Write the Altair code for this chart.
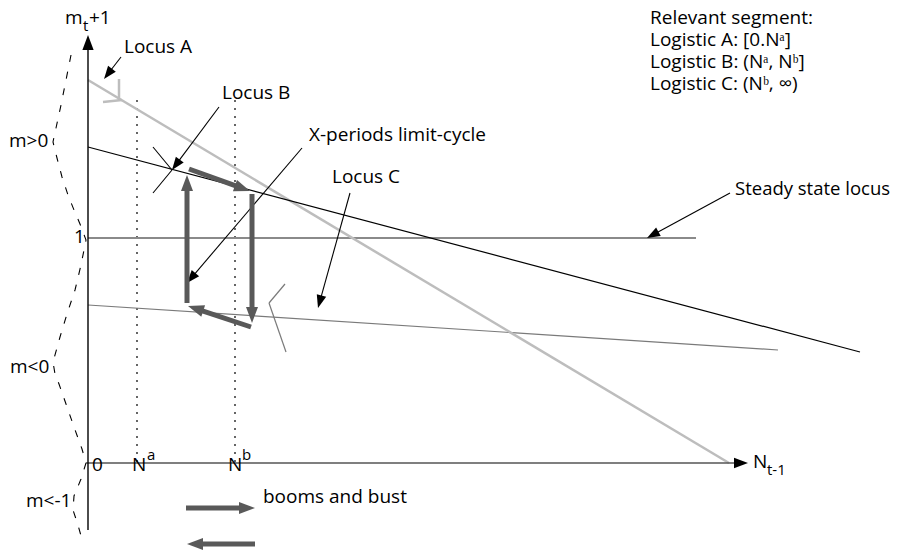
import math
import altair as alt
import pandas as pd

# ---- diagram geometry (page-unit coordinates: x = N axis, y = m axis, downward) ----
# straight loci / guides: (x1, y1, x2, y2)
locus_a = [(88, 80, 729, 463)]
locus_a_mark = [(119, 79, 119, 100), (103, 102, 122, 100)]
locus_b_line = [(88, 147, 860, 352)]
steady_line = [(88, 238, 696, 238)]
locus_c_line = [(88, 305, 778, 350)]
locus_c_mark = [(285, 284, 269, 303), (269, 303, 286, 352)]
dotted_lines = [(137, 100, 137, 463), (235, 100, 235, 463)]
thin_plain = [(172, 170, 153, 193), (153, 147, 172, 170)]

# arrows: (x_start, y_start, x_tip, y_tip)
y_axis = [(88, 530, 88, 35)]
x_axis = [(86, 463, 748, 463)]
thick_arrows = [
    (187, 303, 187, 175),
    (189, 169, 250, 191),
    (252, 194, 252, 323),
    (251, 327, 188, 306),
    (186, 508, 255, 508),
    (255, 544, 187, 544),
]
thin_arrows = [
    (121, 57, 104, 79),
    (219, 107, 172, 170),
    (302, 148, 187, 283),
    (350, 193, 318, 308),
    (730, 193, 647, 238),
]

# dashed stability bracket on the left
curve_x = [71, 66, 61, 56, 53, 57, 62, 68, 74, 80, 86, 81, 75, 67, 60, 53, 55, 59, 66, 74, 82, 86, 81, 74, 73, 78, 83]
curve_y = [55, 80, 105, 128, 142, 158, 177, 195, 210, 224, 240, 265, 290, 314, 337, 362, 374, 384, 404, 427, 449, 463, 479, 496, 510, 525, 543]

# texts: (text, x, baseline y, size)
texts = [
    ("Relevant segment:", 650, 24, 19),
    ("Logistic A: [0.N\u1d43]", 650, 46, 19),
    ("Logistic B: (N\u1d43, N\u1d47]", 650, 68, 19),
    ("Logistic C: (N\u1d47, \u221e)", 650, 90, 19),
    ("Locus A", 124, 53, 19),
    ("Locus B", 222, 99, 19),
    ("X-periods limit-cycle", 309, 141, 19),
    ("Locus C", 332, 183, 19),
    ("Steady state locus", 735, 195, 18.5),
    ("booms and bust", 263, 503, 19),
    ("m>0", 9, 147, 19),
    ("1", 74, 243, 19),
    ("m<0", 10, 373, 19),
    ("m<-1", 26, 507, 19),
    ("0", 92, 471, 19),
    ("N", 132, 471, 19),
    ("a", 147, 460, 15),
    ("N", 228, 471, 19),
    ("b", 242, 460, 15),
    ("m", 65, 24, 19),
    ("t", 83, 31, 15),
    ("+1", 89, 24, 19),
    ("N", 753, 468, 19),
    ("t-1", 767, 475, 15),
]

FONT = "Open Sans"
HEAD = "M0,0L-2,-0.75L-2,0.75Z"

xs = alt.Scale(domain=[8, 890])
ys = alt.Scale(domain=[8, 550], reverse=True)


def seg_df(segs):
    return pd.DataFrame(segs, columns=["x", "y", "x2", "y2"])


def rules(segs, color, width, dash=None):
    kw = dict(color=color, strokeWidth=width)
    if dash:
        kw["strokeDash"] = dash
    return alt.Chart(seg_df(segs)).mark_rule(**kw).encode(
        x=alt.X("x:Q", scale=xs, axis=None),
        y=alt.Y("y:Q", scale=ys, axis=None),
        x2="x2:Q",
        y2="y2:Q",
    )


def arrows(arrs, color, width, head_len, head_color=None):
    shafts, heads = [], []
    r = head_len / 2.0
    for x1, y1, x2, y2 in arrs:
        dx, dy = x2 - x1, y2 - y1
        d = math.hypot(dx, dy)
        ux, uy = dx / d, dy / d
        back = head_len * 0.85
        shafts.append((x1, y1, x2 - ux * back, y2 - uy * back))
        ang = math.degrees(math.atan2(dy, dx)) % 360
        heads.append({"x": x2, "y": y2, "angle": ang, "size": (2 * r) ** 2})
    shaft = rules(shafts, color, width)
    head = alt.Chart(pd.DataFrame(heads)).mark_point(
        shape=HEAD, filled=True, strokeWidth=0, opacity=1,
        color=head_color or color,
    ).encode(
        x=alt.X("x:Q", scale=xs, axis=None),
        y=alt.Y("y:Q", scale=ys, axis=None),
        angle=alt.Angle("angle:Q", scale=None),
        size=alt.Size("size:Q", scale=None),
    )
    return shaft + head


curve = alt.Chart(pd.DataFrame({"x": curve_x, "y": curve_y, "i": list(range(len(curve_x)))})).mark_line(
    color="black", strokeWidth=1.1, strokeDash=[7, 10]
).encode(
    x=alt.X("x:Q", scale=xs, axis=None),
    y=alt.Y("y:Q", scale=ys, axis=None),
    order="i:Q",
)

tdf = pd.DataFrame(texts, columns=["t", "x", "y", "s"])
labels = alt.Chart(tdf).mark_text(
    align="left", baseline="alphabetic", font=FONT, color="black"
).encode(
    x=alt.X("x:Q", scale=xs, axis=None),
    y=alt.Y("y:Q", scale=ys, axis=None),
    text="t:N",
    size=alt.Size("s:Q", scale=None),
)

chart = alt.layer(
    rules(dotted_lines, "black", 1.2, [2, 6]),
    curve,
    rules(steady_line, "#8a8a8a", 2),
    rules(locus_c_line, "#7a7a7a", 1.2),
    rules(locus_c_mark, "#7a7a7a", 1.2),
    rules(locus_a, "#bdbdbd", 2.5),
    rules(locus_a_mark, "#bdbdbd", 2.5),
    rules(locus_b_line, "black", 1.2),
    arrows(x_axis, "#555555", 1.6, 14, head_color="black"),
    arrows(y_axis, "black", 1.4, 15),
    rules(thin_plain, "black", 1.1),
    arrows(thin_arrows, "black", 1.1, 13),
    arrows(thick_arrows, "#595959", 5, 16),
    labels,
).properties(
    width=882, height=542, padding=0, autosize=alt.AutoSizeParams(type="none")
).configure_view(stroke=None)

chart.save("out.html", embed_options={"renderer": "svg", "actions": False})
